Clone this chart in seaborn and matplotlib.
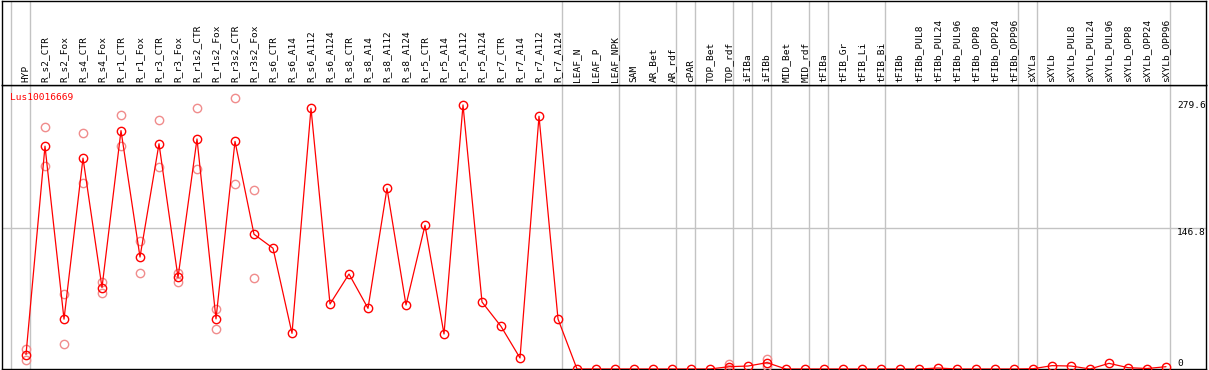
import matplotlib
matplotlib.use("Agg")
import matplotlib.pyplot as plt
import matplotlib.transforms as mtransforms
import numpy as np
import pandas as pd
import seaborn as sns

# dados
gene = "Lus10016669"

samples = [
    "HYP", "R_s2_CTR", "R_s2_Fox", "R_s4_CTR", "R_s4_Fox", "R_r1_CTR", "R_r1_Fox",
    "R_r3_CTR", "R_r3_Fox", "R_r1s2_CTR", "R_r1s2_Fox", "R_r3s2_CTR", "R_r3s2_Fox",
    "R_s6_CTR", "R_s6_A14", "R_s6_A112", "R_s6_A124", "R_s8_CTR", "R_s8_A14",
    "R_s8_A112", "R_s8_A124", "R_r5_CTR", "R_r5_A14", "R_r5_A112", "R_r5_A124",
    "R_r7_CTR", "R_r7_A14", "R_r7_A112", "R_r7_A124", "LEAF_N", "LEAF_P", "LEAF_NPK",
    "SAM", "AR_Bet", "AR_rdf", "cPAR", "TOP_Bet", "TOP_rdf", "iFIBa", "iFIBb",
    "MID_Bet", "MID_rdf", "tFIBa", "tFIB_Gr", "tFIB_Li", "tFIB_Bi", "tFIBb",
    "tFIBb_PUL8", "tFIBb_PUL24", "tFIBb_PUL96", "tFIBb_OPP8", "tFIBb_OPP24",
    "tFIBb_OPP96", "sXYLa", "sXYLb", "sXYLb_PUL8", "sXYLb_PUL24", "sXYLb_PUL96",
    "sXYLb_OPP8", "sXYLb_OPP24", "sXYLb_OPP96",
]

means = [
    15.0, 232.5, 52.0, 220.0, 85.0, 248.7, 116.8, 235.0, 95.5, 240.0, 52.3, 237.5, 140.6,
    126.0, 37.2, 272.0, 67.8, 99.1, 63.3, 188.5, 66.8, 149.9, 36.5, 275.5, 69.9,
    44.5, 11.5, 263.7, 52.2, 0.0, 0.0, 0.0,
    0.0, 0.0, 0.0, 0.0, 0.0, 2.4, 3.1, 6.6,
    0.0, 0.0, 0.0, 0.0, 0.0, 0.0, 0.0,
    0.0, 1.0, 0.0, 0.0, 0.0, 0.0, 0.3, 3.5, 3.1, 0.0, 5.9, 1.4, 0.5, 2.4,
]

# replicas (circulos claros)
rep_samples = [
    "HYP", "HYP", "R_s2_CTR", "R_s2_CTR", "R_s2_Fox", "R_s2_Fox", "R_s4_CTR", "R_s4_CTR",
    "R_s4_Fox", "R_s4_Fox", "R_r1_CTR", "R_r1_CTR", "R_r1_Fox", "R_r1_Fox",
    "R_r3_CTR", "R_r3_CTR", "R_r3_Fox", "R_r3_Fox", "R_r1s2_CTR", "R_r1s2_CTR",
    "R_r1s2_Fox", "R_r1s2_Fox", "R_r3s2_CTR", "R_r3s2_CTR", "R_r3s2_Fox", "R_r3s2_Fox",
    "TOP_rdf", "TOP_rdf", "iFIBb", "iFIBb",
]
rep_values = [
    20.5, 9.4, 253.0, 211.8, 78.3, 25.7, 245.9, 194.4,
    90.4, 79.6, 264.7, 232.7, 133.9, 99.8,
    259.5, 210.4, 99.8, 91.1, 272.0, 208.3,
    62.9, 41.7, 282.4, 192.7, 186.5, 94.6,
    4.9, 0.0, 10.0, 3.2,
]

# tamanho de cada grupo de amostras (linhas cinzas entre grupos)
group_sizes = [1, 28, 3, 3, 1, 2, 1, 1, 2, 1, 3, 7, 1, 7]

ytick_values = [0, 146.8, 279.6]
ytick_labels = ["0", "146.8", "279.6"]

RED = "#ff0000"
PINK = "#f08c8c"
GRAY = "#c3c3c3"


def main():
    sns.set_style("white")
    plt.rcParams["font.family"] = ["DejaVu Sans Mono"]
    fs = 6.8

    W, H = 1209, 370
    fig = plt.figure(figsize=(W / 100, H / 100), dpi=100)

    left = 2 / W
    width = 1204 / W
    ax = fig.add_axes([left, 1 / H, width, 284 / H])
    hax = fig.add_axes([left, 285 / H, width, 84 / H], sharex=ax)

    pos = {s: i for i, s in enumerate(samples)}
    df = pd.DataFrame({"x": np.arange(len(samples)), "y": means})
    reps = pd.DataFrame({"x": [pos[s] for s in rep_samples], "y": rep_values})

    # replicas
    sns.lineplot(data=reps, x="x", y="y", estimator=None, ax=ax, linestyle="",
                 marker="o", markersize=6, markerfacecolor="none",
                 markeredgecolor=PINK, markeredgewidth=1.0, color=PINK, zorder=3)
    # medias
    sns.lineplot(data=df, x="x", y="y", estimator=None, ax=ax, color=RED, linewidth=0.9,
                 marker="o", markersize=6, markerfacecolor="none",
                 markeredgecolor=RED, markeredgewidth=1.0, zorder=4)

    ax.set_xlim(-1.263, 62.105)
    ax.set_ylim(0, 296.3)

    # separadores de grupo
    breaks = [-1] + list(np.cumsum(group_sizes) - 1)
    for b in breaks:
        for a in (ax, hax):
            a.axvline(b + 0.226, color=GRAY, lw=1.0, zorder=1)

    ax.axhline(ytick_values[1], color=GRAY, lw=1.0, zorder=1)

    # rotulos do eixo da direita
    offsets = [6, -4.5, -4.5]
    for v, lab, off in zip(ytick_values, ytick_labels, offsets):
        ax.annotate(lab, xy=(60.58, v), xytext=(0, off * 0.72), textcoords="offset points",
                    ha="left", va="center", fontsize=fs, color="black",
                    annotation_clip=False, zorder=5)

    ax.annotate(gene, xy=(0, 1), xycoords="axes fraction", xytext=(8 * 0.72, -12 * 0.72),
                textcoords="offset points", ha="left", va="center", fontsize=fs, color=RED)

    # nomes das amostras no cabecalho
    trans = mtransforms.blended_transform_factory(hax.transData, hax.transAxes)
    for i, s in enumerate(samples):
        hax.text(i, 0.03, s, rotation=90, ha="center", va="bottom", fontsize=fs,
                 color="black", transform=trans)

    for a in (ax, hax):
        a.set_xticks([])
        a.set_yticks([])
        a.set_xlabel("")
        a.set_ylabel("")
        for sp in a.spines.values():
            sp.set_visible(True)
            sp.set_color("black")
            sp.set_linewidth(1.0)

    fig.savefig("out.png", dpi=100)
    plt.close(fig)


if __name__ == "__main__":
    main()
